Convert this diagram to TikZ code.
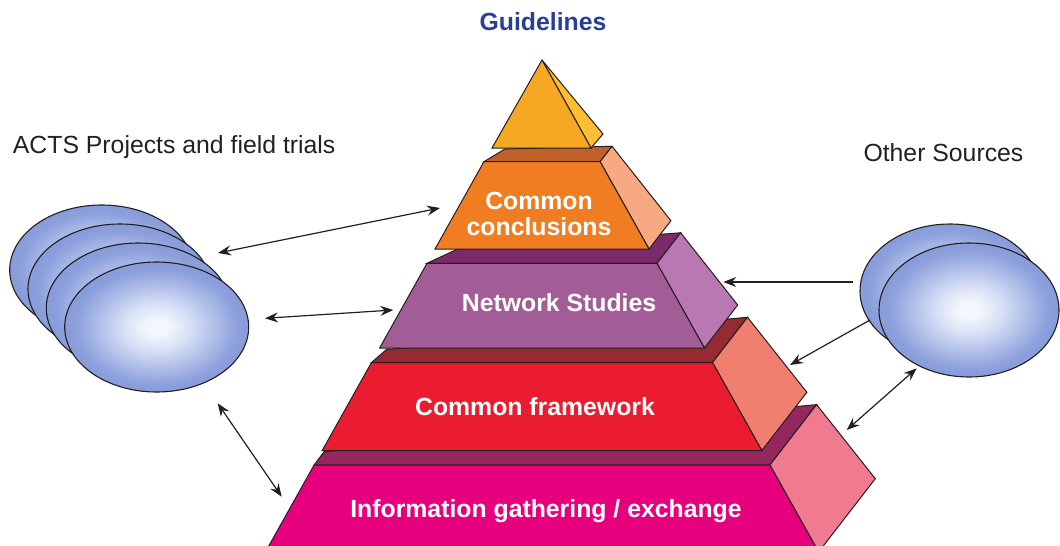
\documentclass[tikz,border=0pt]{standalone}
\usepackage{fontspec}
\setmainfont{Liberation Sans}
\usetikzlibrary{shapes.geometric,arrows.meta}
\definecolor{edge}{RGB}{35,31,32}
\definecolor{gblue}{RGB}{40,62,152}
\definecolor{txt}{RGB}{35,31,40}
\definecolor{triF}{RGB}{247,168,35}
\definecolor{triS}{RGB}{252,190,50}
\definecolor{ccF}{RGB}{240,125,34}
\definecolor{ccT}{RGB}{193,97,42}
\definecolor{ccS}{RGB}{246,169,130}
\definecolor{nsF}{RGB}{162,92,150}
\definecolor{nsT}{RGB}{125,42,107}
\definecolor{nsS}{RGB}{186,120,178}
\definecolor{cfF}{RGB}{235,28,47}
\definecolor{cfT}{RGB}{150,42,51}
\definecolor{cfS}{RGB}{240,127,112}
\definecolor{igF}{RGB}{230,0,126}
\definecolor{igT}{RGB}{149,39,94}
\definecolor{igS}{RGB}{240,122,143}
\definecolor{ellin}{RGB}{244,246,253}
\definecolor{ellhi}{RGB}{215,224,246}
\definecolor{ellmid}{RGB}{140,160,220}
\definecolor{ellout}{RGB}{100,124,196}
\pgfdeclareradialshading{ellsh}{\pgfpoint{0bp}{0bp}}{color(0bp)=(ellin); color(3bp)=(ellin); color(9bp)=(ellhi); color(22bp)=(ellmid); color(46bp)=(ellout); color(50bp)=(ellout)}
\begin{document}
\begin{tikzpicture}[x=1pt,y=-1pt,
  face/.style={draw=edge, line width=1pt, line join=miter},
  disc/.style={ellipse, draw=edge, line width=1.1pt, shade, shading=ellsh, minimum width=184pt, minimum height=130pt, inner sep=0pt},
  layer/.style={text=white, font=\bfseries\fontsize{24.8}{26}\selectfont, anchor=base, inner sep=0pt},
  plain/.style={text=txt, font=\fontsize{24.8}{26}\selectfont, anchor=base west, inner sep=0pt},
  conn/.style={draw=edge, line width=1.2pt, -{Stealth[length=13pt,width=10pt,inset=4.5pt]}},
  dconn/.style={draw=edge, line width=1.2pt, {Stealth[length=13pt,width=10pt,inset=4.5pt]}-{Stealth[length=13pt,width=10pt,inset=4.5pt]}}
]
\useasboundingbox (0,0) rectangle (1060,546);
\clip (0,0) rectangle (1060,546);

% Information gathering / exchange
\filldraw[face, fill=igT] (314.1,465) -- (324.1,451.7) -- (816.6,404.6) -- (769.9,465) -- cycle;
\filldraw[face, fill=igS] (769.9,465) -- (816.6,404.6) -- (875.3,478.7) -- (818.6,552) -- cycle;
\filldraw[face, fill=igF] (314.1,465) -- (769.9,465) -- (818.6,552) -- (265.4,552) -- cycle;
% Common framework
\filldraw[face, fill=cfT] (371.5,362.5) -- (386.5,349.5) -- (747.5,317.3) -- (712.5,362.5) -- cycle;
\filldraw[face, fill=cfS] (712.5,362.5) -- (747.5,317.3) -- (806.9,392.3) -- (761.8,450.5) -- cycle;
\filldraw[face, fill=cfF] (371.5,362.5) -- (712.5,362.5) -- (761.8,450.5) -- (322.2,450.5) -- cycle;
% Network Studies
\filldraw[face, fill=nsT] (427,263.3) -- (457,249.3) -- (680.6,232.8) -- (657,263.3) -- cycle;
\filldraw[face, fill=nsS] (657,263.3) -- (680.6,232.8) -- (737.7,305) -- (704.4,348) -- cycle;
\filldraw[face, fill=nsF] (427,263.3) -- (657,263.3) -- (704.4,348) -- (379.6,348) -- cycle;
% Common conclusions
\filldraw[face, fill=ccT] (483.9,161.7) -- (505,149) -- (612,146.3) -- (600.1,161.7) -- cycle;
\filldraw[face, fill=ccS] (600.1,161.7) -- (612,146.3) -- (670.9,220.7) -- (649,249) -- cycle;
\filldraw[face, fill=ccF] (483.9,161.7) -- (600.1,161.7) -- (649,249) -- (435,249) -- cycle;
% Guidelines apex
\filldraw[face, fill=triS] (542,60) -- (591,148) -- (603,134) -- cycle;
\filldraw[face, fill=triF] (542,60) -- (591,148) -- (492,148) -- cycle;

% discs
\node[disc] (L1) at (101.7,270) {};
\node[disc] (L2) at (120,289) {};
\node[disc] (L3) at (138.3,308) {};
\node[disc] (L4) at (156.7,327) {};
\node[disc, minimum width=180pt, minimum height=134pt] (R1) at (950,291) {};
\node[disc, minimum width=180pt, minimum height=134pt] (R2) at (969,310) {};

% texts
\node[layer, text=gblue] (gl) at (543,30) {Guidelines};
\node[plain] (acts) at (12.7,153.3) {ACTS Projects and field trials};
\node[plain] (other) at (863.3,161.7) {Other Sources};
\node[layer] (cc1) at (539,209.5) {Common};
\node[layer] (cc2) at (539,235) {conclusions};
\node[layer] (ns) at (559,311.7) {Network Studies};
\node[layer] (cf) at (535,415) {Common framework};
\node[layer] (ig) at (546,517.5) {Information gathering / exchange};

% connector ends
\coordinate (a1s) at (218,253);   \coordinate (a1e) at (440,208);
\coordinate (a2s) at (265,318.3); \coordinate (a2e) at (393.3,310);
\coordinate (a3s) at (217.7,403.3); \coordinate (a3e) at (281.7,496.7);
\coordinate (a4s) at (853,282);   \coordinate (a4e) at (723.3,282);
\coordinate (a5s) at (870,320);   \coordinate (a5e) at (790,365);
\coordinate (a6s) at (916.7,368.3); \coordinate (a6e) at (846.7,430);

\draw[dconn] (a1s) -- (a1e);
\draw[dconn] (a2s) -- (a2e);
\draw[dconn] (a3s) -- (a3e);
\draw[conn] (a4s) -- (a4e);
\draw[conn] (a5s) -- (a5e);
\draw[dconn] (a6s) -- (a6e);
\end{tikzpicture}
\end{document}
